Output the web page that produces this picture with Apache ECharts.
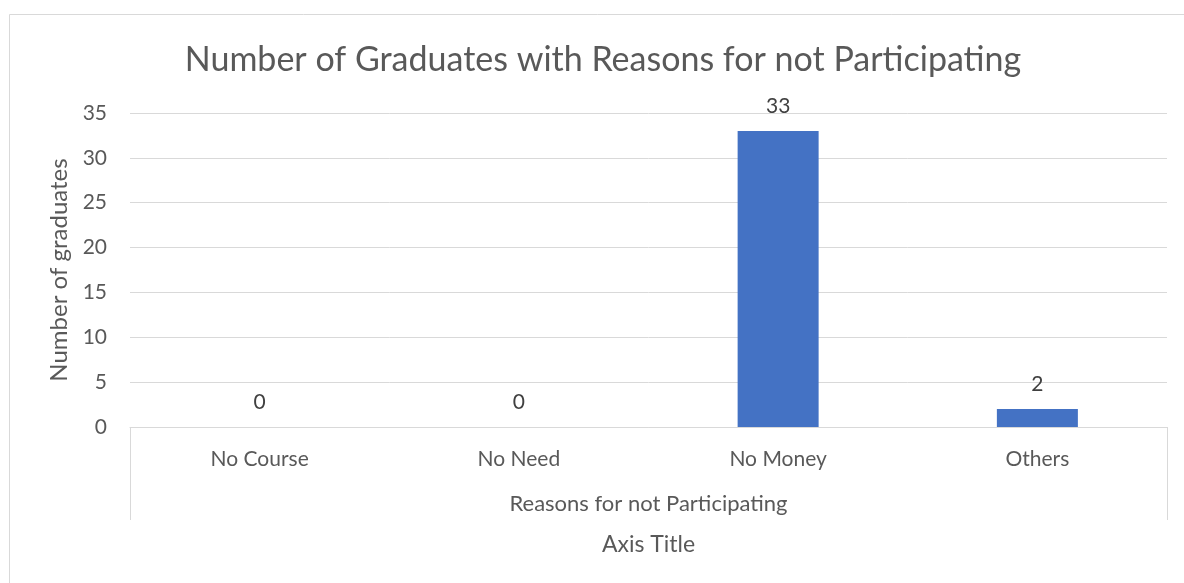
<!DOCTYPE html>
<html>
<head>
<meta charset="utf-8">
<script src="https://cdn.jsdelivr.net/npm/echarts@6/dist/echarts.min.js"></script>
<style>
  html, body { margin: 0; padding: 0; background: #ffffff; }
  #chart { width: 1184px; height: 583px; }
</style>
</head>
<body>
<div id="chart"></div>
<script>
// Reasons given by graduates for not participating
const categories = ['No Course', 'No Need', 'No Money', 'Others'];
const graduates = [0, 0, 33, 2];
const groupLabel = ['Reasons for not Participating'];
const yTicks = [0, 5, 10, 15, 20, 25, 30, 35];

const FONT = 'Lato, "Noto Sans", sans-serif';
const GRID = '#d9d9d9';
const TEXT = '#595959';

const chart = echarts.init(document.getElementById('chart'), null, { renderer: 'canvas' });

chart.setOption({
  backgroundColor: '#ffffff',
  animation: false,
  graphic: [{
    // chart frame
    type: 'rect',
    shape: { x: 9.5, y: 14.5, width: 1200, height: 600 },
    style: { fill: 'none', stroke: GRID, lineWidth: 1 },
    silent: true,
    z: -1
  }, {
    // chart title
    type: 'text',
    x: 603,
    y: 60,
    style: {
      text: 'Number of Graduates with Reasons for not Participating',
      align: 'center',
      verticalAlign: 'middle',
      fontFamily: FONT,
      fontSize: 34,
      fill: TEXT
    },
    silent: true
  }],
  grid: { left: 130, right: 17, top: 113, bottom: 156 },
  xAxis: [{
    type: 'category',
    data: categories,
    position: 'bottom',
    axisLine: { show: true, lineStyle: { color: GRID, width: 1 } },
    axisTick: { show: false },
    axisLabel: { margin: 22, fontFamily: FONT, fontSize: 21, color: TEXT },
    name: 'Axis Title',
    nameLocation: 'middle',
    nameGap: 106,
    nameTextStyle: { fontFamily: FONT, fontSize: 23, color: TEXT }
  }, {
    // second-level category spanning all reasons
    type: 'category',
    data: groupLabel,
    position: 'bottom',
    axisLine: { show: false },
    axisTick: { show: true, length: 93, lineStyle: { color: GRID, width: 1 } },
    axisLabel: { margin: 66, fontFamily: FONT, fontSize: 22, color: TEXT }
  }],
  yAxis: {
    type: 'value',
    min: yTicks[0],
    max: yTicks[yTicks.length - 1],
    interval: yTicks[1] - yTicks[0],
    axisLine: { show: false },
    axisTick: { show: false },
    splitLine: { lineStyle: { color: GRID, width: 1 } },
    axisLabel: { margin: 23, fontFamily: FONT, fontSize: 21, color: TEXT },
    name: 'Number of graduates',
    nameLocation: 'middle',
    nameGap: 59,
    nameTextStyle: { fontFamily: FONT, fontSize: 24, color: TEXT }
  },
  series: [{
    type: 'bar',
    xAxisIndex: 0,
    data: graduates,
    barWidth: 81,
    itemStyle: { color: '#4472c4' },
    label: {
      show: true,
      position: 'top',
      distance: 14,
      fontFamily: FONT,
      fontSize: 21,
      color: '#404040'
    }
  }]
});
</script>
</body>
</html>
